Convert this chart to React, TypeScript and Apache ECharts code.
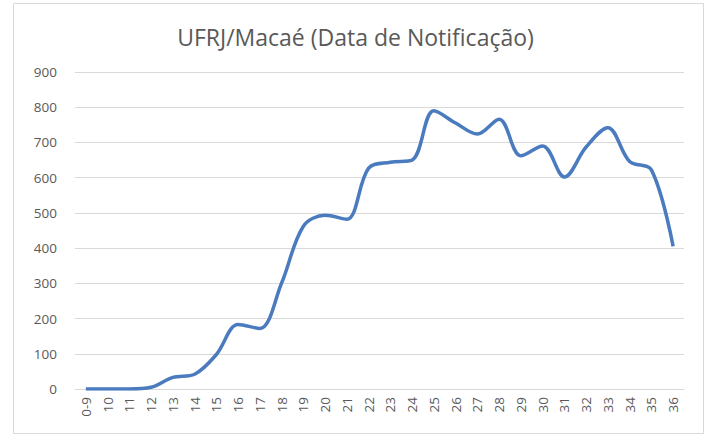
import React, { useEffect, useRef } from "react";
import * as echarts from "echarts";

const categories = ["0-9", "10", "11", "12", "13", "14", "15", "16", "17", "18", "19", "20", "21", "22", "23", "24", "25", "26", "27", "28", "29", "30", "31", "32", "33", "34", "35", "36"];
const values = [0, 0, 0, 5, 33, 42, 98, 183, 172, 301, 462, 493, 482, 627, 644, 650, 790, 755, 724, 766, 662, 690, 602, 687, 742, 646, 622, 405];
const yTicks = { min: 0, max: 900, interval: 100 };
const title = "UFRJ/Macaé (Data de Notificação)";

export default function App() {
  const ref = useRef<HTMLDivElement>(null);
  useEffect(() => {
    if (!ref.current) return;
    const chart = echarts.init(ref.current, undefined, { renderer: "svg" });
    chart.setOption({
      animation: false,
      backgroundColor: "#ffffff",
      title: {
        text: title,
        left: "center",
        top: 20,
        textStyle: { fontFamily: "Open Sans", fontSize: 23, fontWeight: "normal", color: "#595959" },
      },
      graphic: [
        {
          type: "rect",
          shape: { x: 13.5, y: 3.5, width: 690, height: 430 },
          style: { fill: "none", stroke: "#d9d9d9", lineWidth: 1 },
          silent: true,
        },
      ],
      grid: { left: 75, right: 27, top: 72, bottom: 47 },
      xAxis: {
        type: "category",
        data: categories,
        boundaryGap: true,
        axisLine: { lineStyle: { color: "#d9d9d9" } },
        axisTick: { show: false },
        axisLabel: { rotate: 90, color: "#595959", fontFamily: "Open Sans", fontSize: 13.5, interval: 0, margin: 8 },
      },
      yAxis: {
        type: "value",
        min: yTicks.min,
        max: yTicks.max,
        interval: yTicks.interval,
        axisLine: { show: false },
        axisTick: { show: false },
        splitLine: { lineStyle: { color: "#d9d9d9", width: 1 } },
        axisLabel: { color: "#595959", fontFamily: "Open Sans", fontSize: 13.5, margin: 18 },
      },
      series: [
        {
          type: "line",
          data: values,
          smooth: 0.35,
          showSymbol: false,
          lineStyle: { color: "#4a7bbf", width: 3.5 },
        },
      ],
    });
    return () => chart.dispose();
  }, []);
  return <div ref={ref} style={{ position: "fixed", left: 0, top: 0, width: 711, height: 436 }} />;
}
